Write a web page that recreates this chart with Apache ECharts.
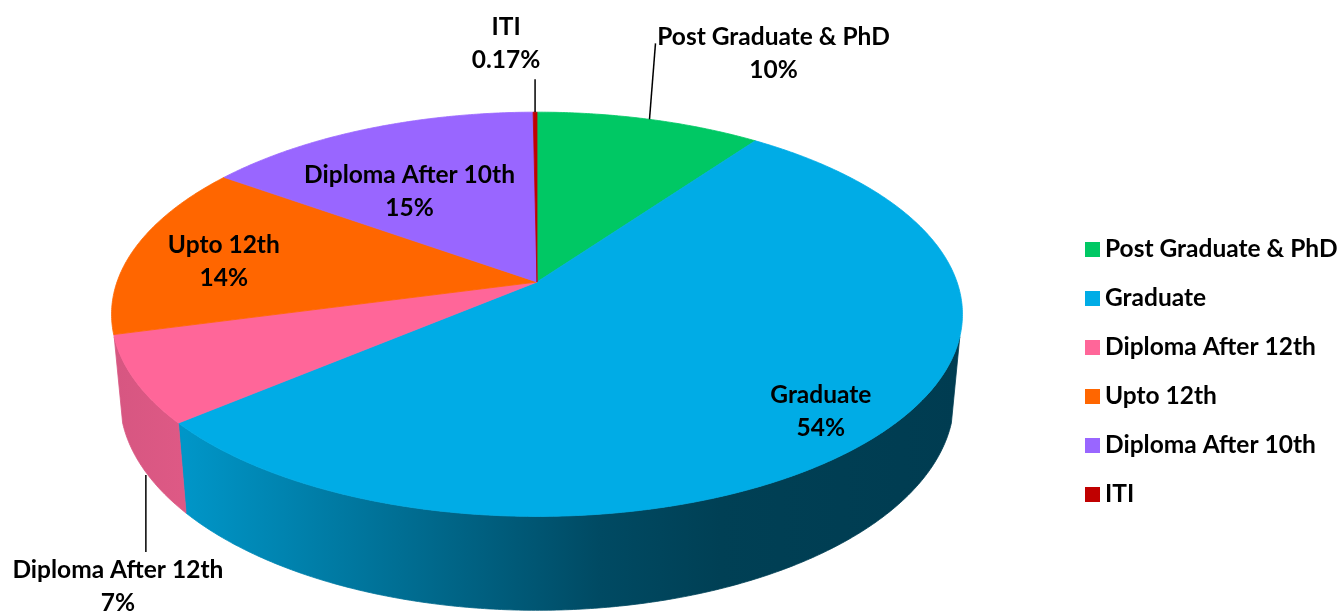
<!DOCTYPE html>
<html>
<head>
<meta charset="utf-8">
<script src="https://cdn.jsdelivr.net/npm/echarts@6/dist/echarts.min.js"></script>
<style>
  html, body { margin: 0; padding: 0; background: #fff; }
  #chart { width: 1343px; height: 611px; }
</style>
</head>
<body>
<div id="chart"></div>
<script>
// 数据
const categories = ['Post Graduate & PhD', 'Graduate', 'Diploma After 12th', 'Upto 12th', 'Diploma After 10th', 'ITI'];
const values = [10, 54, 7, 14, 15, 0.17];
const colors = ['#00C864', '#00ACE6', '#FF6699', '#FF6600', '#9966FF', '#C00000'];

// 3D饼图的投影参数
const geo = { cx: 537, cy: 282, R: 420, s: 0.469, c: 0.883, D: 5.53, T: 0.23 };
const FONT = 'Lato';
const FONT_SIZE = 24.5;

// 标签位置 (inside: 半径比例 + 微调, leader: 引线, 相对于锚点)
const labelLayout = {
  'Post Graduate & PhD': { type: 'leader', rim: 'top', from: [0, 0], to: [6, -76], text: [124, -66] },
  'Graduate': { type: 'inside', k: 0.85, dx: -4, dy: 4 },
  'Diploma After 12th': { type: 'leader', rim: 'bottom', from: [3, 7], to: [3, 84], text: [-25, 119] },
  'Upto 12th': { type: 'inside', k: 0.8, dx: 10, dy: 7 },
  'Diploma After 10th': { type: 'inside', k: 0.6, dx: -20, dy: 6 },
  'ITI': { type: 'leader', rim: 'top', from: [0, 0], to: [0, -33], text: [-29, -69] }
};

const total = values.reduce((a, b) => a + b, 0);
const startAngles = [];
values.reduce((acc, v, i) => { startAngles[i] = acc; return acc + v / total * Math.PI * 2; }, 0);

function proj(X, Z, H) {
  const depth = Z * geo.c + H * geo.s;
  const p = geo.D / (geo.D - depth);
  return [geo.cx + geo.R * X * p, geo.cy + geo.R * (Z * geo.s - H * geo.c) * p];
}
function rim(t, H, k) {
  k = k == null ? 1 : k;
  return proj(k * Math.sin(t), -k * Math.cos(t), H);
}
function shade(hex, f) {
  const n = parseInt(hex.slice(1), 16);
  const r = Math.round(((n >> 16) & 255) * f), g = Math.round(((n >> 8) & 255) * f), b = Math.round((n & 255) * f);
  return 'rgb(' + r + ',' + g + ',' + b + ')';
}
function wallFill(hex) {
  const stops = [[0, 0.84], [0.085, 0.87], [0.574, 0.43], [0.715, 0.37], [1, 0.35]];
  return {
    type: 'linear', global: true,
    x: geo.cx - 426, y: 0, x2: geo.cx + 426, y2: 0,
    colorStops: stops.map(s => ({ offset: s[0], color: shade(hex, s[1]) }))
  };
}

// 可见侧面的角度范围
const z0 = 1.3 / (geo.D * geo.c);
const visLo = Math.acos(-z0), visHi = Math.PI * 2 - Math.acos(-z0);
const STEP = Math.PI / 360;

function arcPoints(a, b, H) {
  const pts = [];
  const n = Math.max(2, Math.ceil((b - a) / STEP));
  for (let j = 0; j <= n; j++) pts.push(rim(a + (b - a) * j / n, H));
  return pts;
}

function renderSlice(params, api) {
  const i = params.seriesIndex;
  const name = categories[i];
  const color = colors[i];
  const a0 = startAngles[i];
  const a1 = a0 + api.value(0) / total * Math.PI * 2;
  const children = [];

  const lo = Math.max(a0, visLo), hi = Math.min(a1, visHi);
  if (lo < hi) {
    const wall = arcPoints(lo, hi, 0).concat(arcPoints(lo, hi, -geo.T).reverse());
    const fill = wallFill(color);
    children.push({ type: 'polygon', z2: 1, shape: { points: wall },
      style: { fill: fill, stroke: fill, lineWidth: 0.8, lineJoin: 'round' } });
  }
  const top = [proj(0, 0, 0)].concat(arcPoints(a0, a1, 0));
  children.push({ type: 'polygon', z2: 5, shape: { points: top },
    style: { fill: color, stroke: color, lineWidth: 0.8, lineJoin: 'round' } });

  const pct = api.value(0) / total * 100;
  const txt = name + '\n' + (pct < 1 ? pct.toFixed(2) : Math.round(pct)) + '%';
  const mid = (a0 + a1) / 2;
  const L = labelLayout[name];
  const textStyle = { text: txt, font: 'bold ' + FONT_SIZE + 'px ' + FONT, fill: '#000', align: 'center', verticalAlign: 'middle', lineHeight: 33 };
  if (L.type === 'inside') {
    const p = rim(mid, 0, L.k);
    children.push({ type: 'text', z2: 20, x: p[0] + L.dx, y: p[1] + L.dy, style: textStyle });
  } else {
    const anc = rim(mid, L.rim === 'top' ? 0 : -geo.T);
    children.push({ type: 'line', z2: 20,
      shape: { x1: anc[0] + L.from[0], y1: anc[1] + L.from[1], x2: anc[0] + L.to[0], y2: anc[1] + L.to[1] },
      style: { stroke: '#000', lineWidth: 1.5 } });
    children.push({ type: 'text', z2: 20, x: anc[0] + L.text[0], y: anc[1] + L.text[1], style: textStyle });
  }
  return { type: 'group', children: children };
}

const chart = echarts.init(document.getElementById('chart'), null, { renderer: 'canvas' });
chart.setOption({
  backgroundColor: '#fff',
  animation: false,
  legend: {
    orient: 'vertical',
    left: 1085,
    top: 237,
    padding: 0,
    icon: 'rect',
    itemWidth: 15,
    itemHeight: 15,
    itemGap: 24,
    data: categories,
    textStyle: { fontFamily: FONT, fontWeight: 'bold', fontSize: FONT_SIZE, color: '#000', lineHeight: 24 }
  },
  series: categories.map((name, i) => ({
    type: 'custom',
    name: name,
    coordinateSystem: 'none',
    itemStyle: { color: colors[i] },
    renderItem: renderSlice,
    data: [[values[i]]]
  }))
});
</script>
</body>
</html>
